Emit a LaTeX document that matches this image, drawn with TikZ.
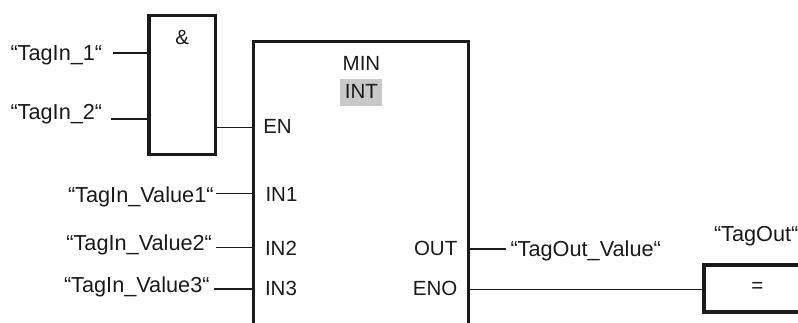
\documentclass[tikz,border=0pt]{standalone}
\usepackage{fontspec}
\setmainfont{Liberation Sans}
\definecolor{ink}{HTML}{1A1A1A}
\definecolor{hl}{HTML}{C8C8C8}
\tikzset{
  x=1pt,y=-1pt,
  box/.style={draw=ink,line width=3.4pt,rectangle,inner sep=0pt,outer sep=0pt,anchor=north west},
  wire/.style={draw=ink,line width=1.4pt},
  lblw/.style={anchor=base west,inner sep=0pt,outer sep=0pt,text=ink,font=\fontsize{20.5}{24}\selectfont},
  tagw/.style={anchor=base west,inner sep=0pt,outer sep=0pt,text=ink,font=\fontsize{21.7}{25}\selectfont},
  lble/.style={anchor=base east,inner sep=0pt,outer sep=0pt,text=ink,font=\fontsize{20.5}{24}\selectfont},
  lblc/.style={anchor=base,inner sep=0pt,outer sep=0pt,text=ink,font=\fontsize{20.5}{24}\selectfont},
}
\begin{document}
\begin{tikzpicture}
\useasboundingbox (0,0) rectangle (798,323);
\clip (0,0) rectangle (798,323);
\fill[white] (0,0) rectangle (798,323);
% boxes
\node[box,minimum width=66.5pt,minimum height=138.8pt] (and) at (149,15.5) {};
\node[box,minimum width=214.8pt,minimum height=400pt] (min) at (253.5,41.8) {};
\node[box,minimum width=200pt,minimum height=46.8pt] (eq) at (704,265.2) {};
\fill[hl] (340,79) rectangle (382,106);
% labels
\node[tagw] (t1) at (10.5,60.7) {“TagIn\_1“};
\node[tagw] (t2) at (10.5,120) {“TagIn\_2“};
\node[lblc] (amp) at (182.3,45) {\&};
\node[lblc] (mint) at (361.5,70.7) {MIN};
\node[lblc] (int) at (361.5,99) {INT};
\node[lblw] (en) at (263.3,134) {EN};
\node[lblw] (in1) at (265.5,201.3) {IN1};
\node[lblw] (in2) at (265,255.3) {IN2};
\node[lblw] (in3) at (265,295.3) {IN3};
\node[tagw] (v1) at (68,202.3) {“TagIn\_Value1“};
\node[tagw] (v2) at (66.4,250.3) {“TagIn\_Value2“};
\node[tagw] (v3) at (64,292) {“TagIn\_Value3“};
\node[lble] (out) at (457.3,256) {OUT};
\node[lble] (eno) at (457.3,295) {ENO};
\node[tagw] (tv) at (510.5,256.7) {“TagOut\_Value“};
\node[tagw] (to) at (714,241.7) {“TagOut“};
\node[lblc] (eqs) at (757.3,292) {=};
% free wire ends
\coordinate (c1) at (112.7,53);
\coordinate (c2) at (110.7,119);
\coordinate (c3) at (215.7,193.3);
\coordinate (c4) at (216,247.7);
\coordinate (c5) at (214.3,289);
\coordinate (c6) at (506,249);
\coordinate (c7) at (217,127.7);
\coordinate (c8) at (468,289.7);
% connectors
\draw[wire] (c1) -- (c1 -| and.west);
\draw[wire] (c2) -- (c2 -| and.west);
\draw[wire] (c7 -| and.east) -- (c7 -| min.west);
\draw[wire] (c3) -- (c3 -| min.west);
\draw[wire] (c4) -- (c4 -| min.west);
\draw[wire] (c5) -- (c5 -| min.west);
\draw[wire] (c6 -| min.east) -- (c6);
\draw[wire] (c8 -| min.east) -- (c8 -| eq.west);
\end{tikzpicture}
\end{document}
